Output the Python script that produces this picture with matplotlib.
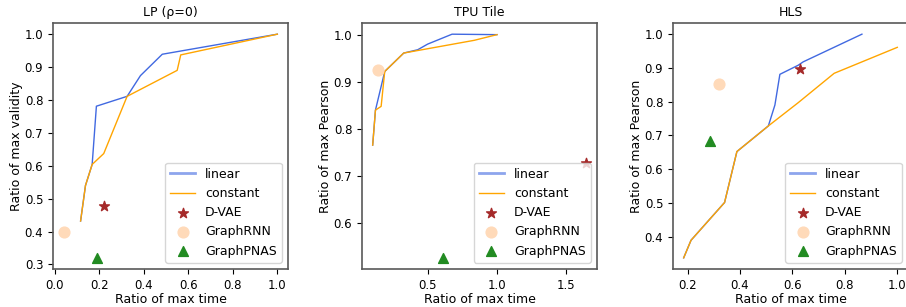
import numpy as np
import matplotlib.pyplot as plt
from matplotlib.ticker import MultipleLocator

# LP (rho=0)
lp_lin_x = [0.116, 0.138, 0.168, 0.187, 0.325, 0.385, 0.483, 1.0]
lp_lin_y = [0.432, 0.540, 0.604, 0.781, 0.811, 0.874, 0.939, 1.0]
lp_con_x = [0.116, 0.138, 0.168, 0.220, 0.325, 0.550, 0.566, 1.0]
lp_con_y = [0.432, 0.540, 0.604, 0.637, 0.811, 0.890, 0.937, 1.0]
lp_dvae = (0.22, 0.479)
lp_rnn = (0.04, 0.399)
lp_pnas = (0.19, 0.32)

# TPU Tile
tpu_lin_x = [0.103, 0.123, 0.190, 0.327, 0.428, 0.50, 0.676, 1.0]
tpu_lin_y = [0.766, 0.840, 0.922, 0.961, 0.968, 0.980, 1.001, 1.0]
tpu_con_x = [0.103, 0.123, 0.164, 0.190, 0.327, 0.836, 1.0]
tpu_con_y = [0.766, 0.840, 0.848, 0.922, 0.961, 0.988, 1.0]
tpu_dvae = (1.645, 0.729)
tpu_rnn = (0.139, 0.926)
tpu_pnas = (0.608, 0.527)

# HLS
hls_lin_x = [0.185, 0.213, 0.341, 0.388, 0.508, 0.533, 0.552, 0.622, 0.641, 0.865]
hls_lin_y = [0.337, 0.389, 0.501, 0.652, 0.728, 0.790, 0.881, 0.908, 0.918, 1.0]
hls_con_x = [0.185, 0.213, 0.341, 0.388, 0.508, 0.622, 0.759, 1.0]
hls_con_y = [0.337, 0.389, 0.501, 0.652, 0.728, 0.797, 0.884, 0.961]
hls_dvae = (0.628, 0.897)
hls_rnn = (0.32, 0.852)
hls_pnas = (0.286, 0.682)

panels = [
    ('LP (ρ=0)', 'Ratio of max validity', lp_lin_x, lp_lin_y, lp_con_x, lp_con_y, lp_dvae, lp_rnn, lp_pnas, 0.2, 0.1),
    ('TPU Tile', 'Ratio of max Pearson', tpu_lin_x, tpu_lin_y, tpu_con_x, tpu_con_y, tpu_dvae, tpu_rnn, tpu_pnas, 0.5, 0.1),
    ('HLS', 'Ratio of max Pearson', hls_lin_x, hls_lin_y, hls_con_x, hls_con_y, hls_dvae, hls_rnn, hls_pnas, 0.2, 0.1),
]

plt.rcParams['font.size'] = 9
plt.rcParams['xtick.labelsize'] = 8.5
plt.rcParams['ytick.labelsize'] = 8.5

W, H = 906, 307
fig = plt.figure(figsize=(W / 100, H / 100), dpi=100)
lefts = [53, 362, 673]

for left, (title, ylabel, lx, ly, cx, cy, dvae, rnn, pnas, xstep, ystep) in zip(lefts, panels):
    ax = fig.add_axes([left / W, (H - 269) / H, 235 / W, 246 / H])
    ax.plot(lx, ly, color='royalblue', lw=1, label='linear')
    ax.plot(cx, cy, color='orange', lw=1, label='constant')
    ax.scatter(*dvae, marker='*', s=55, color='brown', label='D-VAE', zorder=3)
    ax.scatter(*rnn, marker='o', s=60, color='peachpuff', label='GraphRNN', zorder=3)
    ax.scatter(*pnas, marker='^', s=50, color='forestgreen', label='GraphPNAS', zorder=3)
    ax.xaxis.set_major_locator(MultipleLocator(xstep))
    ax.yaxis.set_major_locator(MultipleLocator(ystep))
    ax.set_title(title, fontsize=9, pad=5)
    ax.set_xlabel('Ratio of max time', labelpad=1)
    ax.set_ylabel(ylabel, labelpad=1)
    for s in ax.spines.values():
        s.set_color('0.35')
        s.set_linewidth(1.2)
    leg = ax.legend(loc='lower right')
    leg.get_lines()[0].set_linewidth(2)
    leg.get_lines()[0].set_alpha(0.6)

fig.savefig('out.png', dpi=100)
